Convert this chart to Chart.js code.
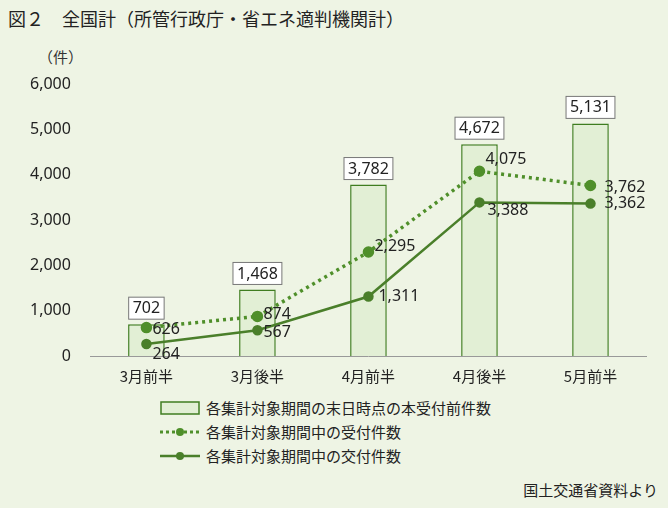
<!DOCTYPE html>
<html><head><meta charset="utf-8">
<script src="https://cdn.jsdelivr.net/npm/chart.js@4"></script>
<style>
body{margin:0;background:#fff;font-family:"Noto Sans CJK JP",sans-serif;}
#wrap{position:absolute;left:0;top:0;width:668px;height:508px;background:#eef4e4;}
#title{position:absolute;left:8px;top:5px;font-size:18px;color:#222;}
#unit{position:absolute;left:38px;top:46px;font-size:15px;color:#333;}
#cv{position:absolute;left:0;top:60px;width:668px;height:328px;}
#legend{position:absolute;left:160px;top:396px;font-size:15px;color:#222;line-height:24px;}
.li{display:flex;align-items:center;}
.li span{margin-left:6px;}
#src{position:absolute;right:10px;bottom:8px;font-size:15px;color:#222;font-family:"Noto Sans CJK JP",serif;}
</style></head><body>
<div id="wrap">
<div id="title">図２　全国計（所管行政庁・省エネ適判機関計）</div>
<div id="unit">（件）</div>
<div id="cv"><canvas id="chart"></canvas></div>
<div id="legend">
 <div class="li"><svg width="40" height="14"><rect x="1" y="1" width="38" height="12" fill="#e2efd5" stroke="#3f7d20" stroke-width="1.5"/></svg><span>各集計対象期間の末日時点の本受付前件数</span></div>
 <div class="li"><svg width="40" height="14"><line x1="0" y1="7" x2="40" y2="7" stroke="#4f8f2a" stroke-width="3" stroke-dasharray="3,3"/><circle cx="20" cy="7" r="4" fill="#4f8f2a"/></svg><span>各集計対象期間中の受付件数</span></div>
 <div class="li"><svg width="40" height="14"><line x1="0" y1="7" x2="40" y2="7" stroke="#4a7f2a" stroke-width="2.5"/><circle cx="20" cy="7" r="4" fill="#4a7f2a"/></svg><span>各集計対象期間中の交付件数</span></div>
</div>
<div id="src">国土交通省資料より</div>
</div>
<script>
const categories = ['3月前半','3月後半','4月前半','4月後半','5月前半'];
const pending = [702, 1468, 3782, 4672, 5131];
const received = [626, 874, 2295, 4075, 3762];
const issued = [264, 567, 1311, 3388, 3362];
const yTicks = [0, 1000, 2000, 3000, 4000, 5000, 6000];

const fmt = v => v.toLocaleString('en-US');

const labelPlugin = {
  id: 'labels',
  afterDatasetsDraw(chart) {
    const ctx = chart.ctx;
    ctx.save();
    ctx.font = '16px "Noto Sans", sans-serif';
    chart.getDatasetMeta(0).data.forEach((el, i) => {
      const t = fmt(pending[i]);
      const w = ctx.measureText(t).width + 8;
      const x = el.x - w / 2, y = el.y - 27;
      ctx.fillStyle = '#fff';
      ctx.fillRect(x, y, w, 22);
      ctx.strokeStyle = '#777';
      ctx.lineWidth = 1;
      ctx.strokeRect(x, y, w, 22);
      ctx.fillStyle = '#222';
      ctx.textAlign = 'center';
      ctx.textBaseline = 'middle';
      ctx.fillText(t, el.x, y + 11.5);
    });
    ctx.textAlign = 'left';
    ctx.textBaseline = 'middle';
    const recvOff = [[6, 2], [6, -2], [6, -6], [6, -12], [14, 2]];
    const issOff = [[6, 10], [6, 2], [10, 0], [8, 8], [14, 0]];
    chart.getDatasetMeta(1).data.forEach((el, i) => {
      ctx.fillText(fmt(received[i]), el.x + recvOff[i][0], el.y + recvOff[i][1]);
    });
    chart.getDatasetMeta(2).data.forEach((el, i) => {
      ctx.fillText(fmt(issued[i]), el.x + issOff[i][0], el.y + issOff[i][1]);
    });
    ctx.restore();
  }
};

new Chart(document.getElementById('chart'), {
  data: {
    labels: categories,
    datasets: [
      { type: 'bar', data: pending, backgroundColor: '#e2efd5', borderColor: '#3f7d20', borderWidth: 1.5, barPercentage: 0.6, categoryPercentage: 0.55, order: 3 },
      { type: 'line', data: received, borderColor: '#4f8f2a', backgroundColor: '#4f8f2a', borderWidth: 3.5, borderDash: [3, 4], pointRadius: 4, order: 1 },
      { type: 'line', data: issued, borderColor: '#4a7f2a', backgroundColor: '#4a7f2a', borderWidth: 2.5, pointRadius: 4, order: 2 }
    ]
  },
  options: {
    responsive: true,
    maintainAspectRatio: false,
    animation: false,
    layout: { padding: { left: 18, right: 22, top: 24, bottom: 0 } },
    plugins: { legend: { display: false }, tooltip: { enabled: false } },
    scales: {
      x: {
        grid: { display: false },
        border: { color: '#999' },
        ticks: { color: '#222', font: { size: 15, family: '"Noto Sans CJK JP"' } }
      },
      y: {
        min: 0, max: 6000,
        afterBuildTicks: s => { s.ticks = yTicks.map(v => ({ value: v })); },
        grid: { display: false },
        border: { display: false },
        ticks: { color: '#222', padding: 12, font: { size: 16, family: '"Noto Sans"' }, callback: v => fmt(v) }
      }
    }
  },
  plugins: [labelPlugin]
});
</script>
</body></html>
